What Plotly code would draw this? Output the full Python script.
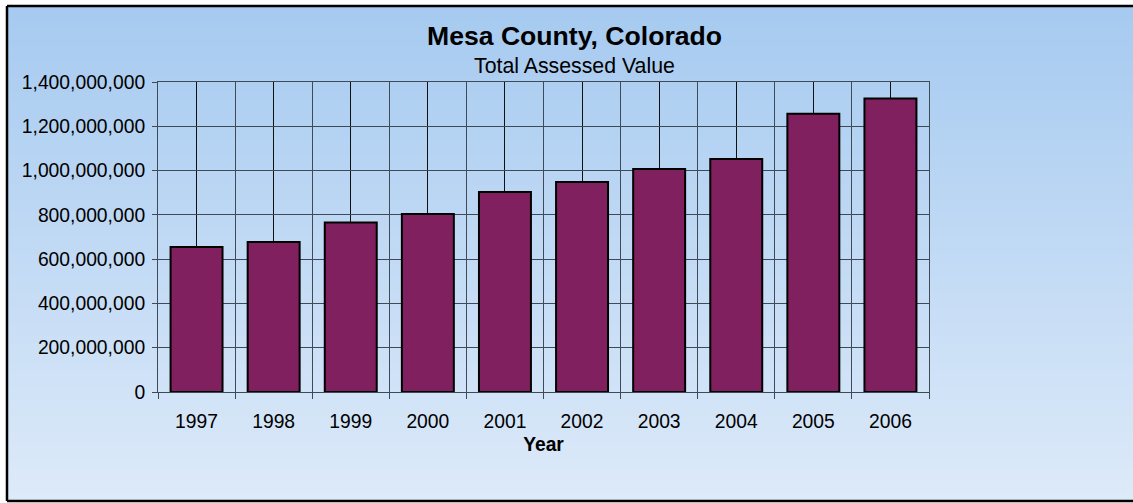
import base64, struct, zlib
import plotly.graph_objects as go

# ---- data ----
years = ["1997", "1998", "1999", "2000", "2001", "2002", "2003", "2004", "2005", "2006"]
assessed_value = [655e6, 677e6, 766e6, 804e6, 903e6, 948e6, 1007e6, 1052e6, 1257e6, 1326e6]
y_ticks = [0, 200e6, 400e6, 600e6, 800e6, 1000e6, 1200e6, 1400e6]
title_text = "Mesa County, Colorado"
subtitle_text = "Total Assessed Value"
x_title = "Year"

# ---- layout geometry ----
W, H = 1133, 503
L, R, T, B = 158, 1133 - 929, 82, 503 - 392
PW, PH = W - L - R, H - T - B


def px_x(p):
    return (p - L) / PW


def px_y(p):
    return (H - B - p) / PH


# vertical gradient png (data URI)
def gradient_png(top, bottom, n=256):
    rows = b""
    for i in range(n):
        t = i / (n - 1)
        c = [round(top[k] + (bottom[k] - top[k]) * t) for k in range(3)]
        rows += b"\x00" + bytes(c)
    def chunk(tag, data):
        return struct.pack(">I", len(data)) + tag + data + struct.pack(">I", zlib.crc32(tag + data) & 0xffffffff)
    png = b"\x89PNG\r\n\x1a\n"
    png += chunk(b"IHDR", struct.pack(">IIBBBBB", 1, n, 8, 2, 0, 0, 0))
    png += chunk(b"IDAT", zlib.compress(rows))
    png += chunk(b"IEND", b"")
    return "data:image/png;base64," + base64.b64encode(png).decode()


bg = gradient_png((166, 202, 240), (221, 234, 249))

FONT = "Arial, 'Liberation Sans', sans-serif"
GRID = "#3f4a58"
TICK_SIZE = 19.3

xs = list(range(len(years)))

fig = go.Figure()
fig.add_trace(go.Bar(
    x=xs, y=assessed_value,
    marker=dict(color="#80205f", line=dict(color="#000000", width=2)),
    hoverinfo="y",
))

border = dict(type="line", xref="paper", yref="paper",
              line=dict(color="#000000", width=2.5), layer="above")
x_left, x_right, y_top, y_bot = px_x(7), px_x(W), px_y(6), px_y(501)

fig.update_layout(
    width=W, height=H,
    margin=dict(l=L, r=R, t=T, b=B, pad=0),
    paper_bgcolor="white",
    plot_bgcolor="rgba(0,0,0,0)",
    bargap=0.326,
    showlegend=False,
    font=dict(family=FONT, color="#000000", size=TICK_SIZE),
    images=[dict(
        source=bg, xref="paper", yref="paper",
        x=x_left, y=y_top, sizex=x_right - x_left, sizey=y_top - y_bot,
        xanchor="left", yanchor="top", sizing="stretch", layer="below",
    )],
    shapes=[
        dict(border, x0=x_left, x1=x_left, y0=y_bot, y1=y_top),
        dict(border, x0=x_left, x1=x_right, y0=y_top, y1=y_top),
        dict(border, x0=x_left, x1=x_right, y0=y_bot, y1=y_bot),
    ],
    annotations=[
        dict(text="<b>" + title_text + "</b>", xref="paper", yref="paper",
             x=px_x(574.5), y=px_y(35.5), xanchor="center", yanchor="middle",
             showarrow=False, font=dict(size=26.6, family=FONT)),
        dict(text=subtitle_text, xref="paper", yref="paper",
             x=px_x(574.5), y=px_y(66.0), xanchor="center", yanchor="middle",
             showarrow=False, font=dict(size=21.3, family=FONT)),
    ],
)

fig.update_xaxes(
    range=[-0.5, len(years) - 0.5],
    tickmode="array", tickvals=xs, ticktext=years,
    ticks="", showgrid=True, gridcolor="#111111", gridwidth=1,
    minor=dict(tickmode="array", tickvals=[i - 0.5 for i in range(len(years) + 1)],
               ticks="outside", ticklen=6, tickcolor=GRID, tickwidth=1,
               showgrid=True, gridcolor=GRID, gridwidth=1),
    showline=True, mirror=True, linecolor=GRID, linewidth=1,
    zeroline=False,
    ticklabelstandoff=12,
    title=dict(text="<b>" + x_title + "</b>", standoff=6, font=dict(size=TICK_SIZE)),
    tickfont=dict(size=TICK_SIZE),
)

fig.update_yaxes(
    range=[0, 1400e6],
    tickmode="array", tickvals=y_ticks, tickformat=",d",
    ticks="outside", ticklen=5, tickcolor=GRID,
    showgrid=True, gridcolor=GRID, gridwidth=1,
    showline=True, mirror=True, linecolor=GRID, linewidth=1,
    zeroline=False,
    ticklabelstandoff=3,
    tickfont=dict(size=TICK_SIZE),
)

fig.write_html("out.html", config={"displayModeBar": False},
               post_script="document.body.style.margin='0';")
